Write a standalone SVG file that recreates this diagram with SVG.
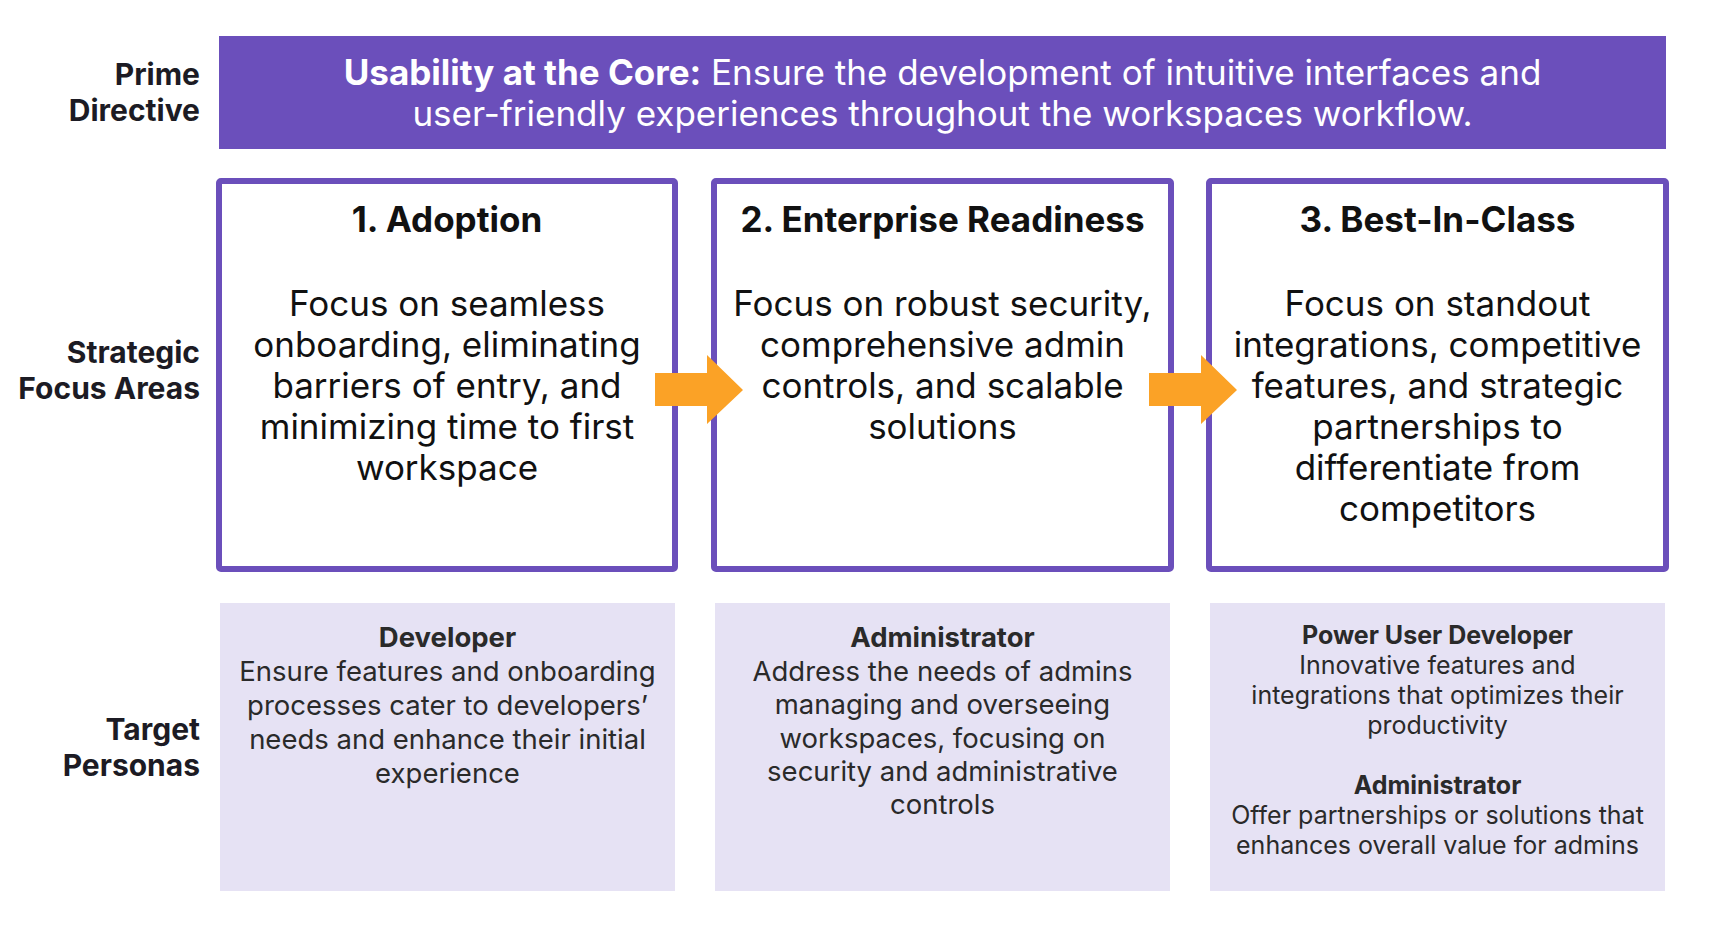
<svg xmlns="http://www.w3.org/2000/svg" width="1716" height="928" viewBox="0 0 1716 928">
  <defs>
    <style>
      .lbl { font-family: Inter, "Liberation Sans", sans-serif; font-weight: 700; font-size: 30px; fill: #1c1b24; text-anchor: end; }
      .banner { fill: #6b4fbb; }
      .bannertxt { font-family: Inter, "Liberation Sans", sans-serif; font-size: 35px; fill: #ffffff; text-anchor: middle; }
      .area { fill: #ffffff; stroke: #6b4fbb; stroke-width: 6; }
      .title { font-family: Inter, "Liberation Sans", sans-serif; font-weight: 700; font-size: 35px; fill: #111111; text-anchor: middle; }
      .body { font-family: Inter, "Liberation Sans", sans-serif; font-size: 35px; fill: #111111; text-anchor: middle; }
      .persona { fill: #e6e2f4; }
      .ptitle { font-family: Inter, "Liberation Sans", sans-serif; font-weight: 700; font-size: 27.5px; fill: #2a2a2a; text-anchor: middle; }
      .ptext { font-family: Inter, "Liberation Sans", sans-serif; font-size: 27.5px; fill: #2a2a2a; text-anchor: middle; }
      .ptitle-s { font-family: Inter, "Liberation Sans", sans-serif; font-weight: 700; font-size: 25px; fill: #2a2a2a; text-anchor: middle; }
      .ptext-s { font-family: Inter, "Liberation Sans", sans-serif; font-size: 25px; fill: #2a2a2a; text-anchor: middle; }
      .flow { fill: #fba226; }
    </style>
    <path id="blockArrow" d="M0,18 H52 V0 L88,35 L52,69 V51 H0 Z"/>
  </defs>

  <!-- row labels -->
  <g id="row-labels">
    <text class="lbl" x="200" y="85">Prime</text>
    <text class="lbl" x="200" y="121">Directive</text>
    <text class="lbl" x="200" y="363">Strategic</text>
    <text class="lbl" x="200" y="399">Focus Areas</text>
    <text class="lbl" x="200" y="740">Target</text>
    <text class="lbl" x="200" y="776">Personas</text>
  </g>

  <!-- prime directive banner -->
  <g id="prime-directive">
    <rect class="banner" x="219" y="36" width="1447" height="113"/>
    <text class="bannertxt" x="942.5" y="85"><tspan font-weight="700">Usability at the Core:</tspan> Ensure the development of intuitive interfaces and</text>
    <text class="bannertxt" x="942.5" y="126">user-friendly experiences throughout the workspaces workflow.</text>
  </g>

  <!-- strategic focus areas -->
  <g id="area-adoption">
    <rect class="area" x="219" y="181" width="456" height="388" rx="2"/>
    <text class="title" x="447" y="232">1. Adoption</text>
    <text class="body" x="447" y="316">Focus on seamless</text>
    <text class="body" x="447" y="357">onboarding, eliminating</text>
    <text class="body" x="447" y="398">barriers of entry, and</text>
    <text class="body" x="447" y="439">minimizing time to first</text>
    <text class="body" x="447" y="480">workspace</text>
  </g>

  <g id="area-enterprise">
    <rect class="area" x="714" y="181" width="457" height="388" rx="2"/>
    <text class="title" x="942.5" y="232">2. Enterprise Readiness</text>
    <text class="body" x="942.5" y="316">Focus on robust security,</text>
    <text class="body" x="942.5" y="357">comprehensive admin</text>
    <text class="body" x="942.5" y="398">controls, and scalable</text>
    <text class="body" x="942.5" y="439">solutions</text>
  </g>

  <g id="area-best-in-class">
    <rect class="area" x="1209" y="181" width="457" height="388" rx="2"/>
    <text class="title" x="1437.5" y="232">3. Best-In-Class</text>
    <text class="body" x="1437.5" y="316">Focus on standout</text>
    <text class="body" x="1437.5" y="357">integrations, competitive</text>
    <text class="body" x="1437.5" y="398">features, and strategic</text>
    <text class="body" x="1437.5" y="439">partnerships to</text>
    <text class="body" x="1437.5" y="480">differentiate from</text>
    <text class="body" x="1437.5" y="521">competitors</text>
  </g>

  <!-- flow arrows between focus areas -->
  <g id="connectors">
    <use href="#blockArrow" class="flow" x="655" y="355"/>
    <use href="#blockArrow" class="flow" x="1149" y="355"/>
  </g>

  <!-- target personas -->
  <g id="persona-developer">
    <rect class="persona" x="220" y="603" width="455" height="288"/>
    <text class="ptitle" x="447.5" y="647">Developer</text>
    <text class="ptext" x="447.5" y="681">Ensure features and onboarding</text>
    <text class="ptext" x="447.5" y="715">processes cater to developers’</text>
    <text class="ptext" x="447.5" y="749">needs and enhance their initial</text>
    <text class="ptext" x="447.5" y="783">experience</text>
  </g>

  <g id="persona-administrator">
    <rect class="persona" x="715" y="603" width="455" height="288"/>
    <text class="ptitle" x="942.5" y="647">Administrator</text>
    <text class="ptext" x="942.5" y="681">Address the needs of admins</text>
    <text class="ptext" x="942.5" y="714">managing and overseeing</text>
    <text class="ptext" x="942.5" y="748">workspaces, focusing on</text>
    <text class="ptext" x="942.5" y="781">security and administrative</text>
    <text class="ptext" x="942.5" y="814">controls</text>
  </g>

  <g id="persona-power-user">
    <rect class="persona" x="1210" y="603" width="455" height="288"/>
    <text class="ptitle-s" x="1437.5" y="644">Power User Developer</text>
    <text class="ptext-s" x="1437.5" y="674">Innovative features and</text>
    <text class="ptext-s" x="1437.5" y="704">integrations that optimizes their</text>
    <text class="ptext-s" x="1437.5" y="734">productivity</text>
    <text class="ptitle-s" x="1437.5" y="794">Administrator</text>
    <text class="ptext-s" x="1437.5" y="824">Offer partnerships or solutions that</text>
    <text class="ptext-s" x="1437.5" y="854">enhances overall value for admins</text>
  </g>
</svg>
